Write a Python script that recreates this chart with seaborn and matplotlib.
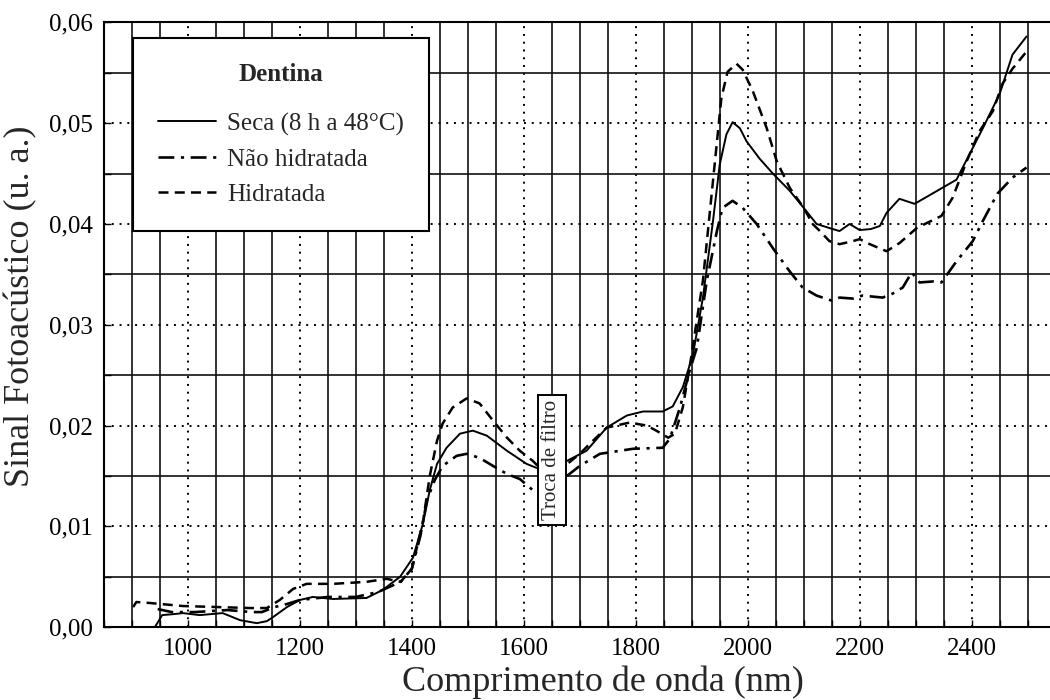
import numpy as np
import pandas as pd
import matplotlib
matplotlib.use("Agg")
import matplotlib.pyplot as plt
import seaborn as sns
from matplotlib.ticker import MultipleLocator, FuncFormatter

# %% Data (wavelength in nm, signal in a.u.)
# each curve is broken at the filter change (~1625-1675 nm)
seca_nm_a = [941, 954, 975, 991, 1021, 1062, 1093, 1123, 1141, 1152, 1177, 1200, 1223, 1259,
             1319, 1348, 1379, 1402, 1420, 1432, 1445, 1462, 1486, 1509, 1534, 1570, 1605, 1623]
seca_val_a = [0.0000, 0.0012, 0.0013, 0.0014, 0.0012, 0.0014, 0.0007, 0.0004, 0.0006, 0.0010,
              0.0020, 0.0027, 0.0030, 0.0028, 0.0029, 0.0037, 0.0050, 0.0069, 0.0103, 0.0136,
              0.0162, 0.0178, 0.0192, 0.0195, 0.0190, 0.0175, 0.0162, 0.0158]
seca_nm_b = [1677, 1712, 1748, 1784, 1813, 1848, 1866, 1884, 1902, 1920, 1938, 1950, 1962, 1973,
             1986, 1998, 2021, 2045, 2075, 2100, 2123, 2146, 2164, 2182, 2200, 2220, 2236, 2248,
             2271, 2298, 2320, 2348, 2373, 2396, 2420, 2450, 2473, 2498]
seca_val_b = [0.0165, 0.0175, 0.0198, 0.0210, 0.0214, 0.0214, 0.0219, 0.0238, 0.0270, 0.0327,
              0.0403, 0.0459, 0.0489, 0.0501, 0.0495, 0.0482, 0.0465, 0.0450, 0.0433, 0.0416,
              0.0400, 0.0396, 0.0393, 0.0400, 0.0394, 0.0395, 0.0398, 0.0411, 0.0425, 0.0420,
              0.0427, 0.0436, 0.0444, 0.0469, 0.0495, 0.0529, 0.0568, 0.0586]

nhid_nm_a = [946, 971, 1013, 1040, 1071, 1114, 1132, 1155, 1177, 1200, 1250, 1300, 1340, 1380,
             1400, 1415, 1427, 1441, 1455, 1480, 1498, 1521, 1545, 1570, 1593, 1616, 1625]
nhid_val_a = [0.0018, 0.0015, 0.0015, 0.0016, 0.0017, 0.0015, 0.0015, 0.0020, 0.0023, 0.0027,
              0.0030, 0.0030, 0.0035, 0.0045, 0.0058, 0.0090, 0.0126, 0.0146, 0.0160, 0.0170,
              0.0172, 0.0168, 0.0160, 0.0152, 0.0147, 0.0136, 0.0133]
nhid_nm_b = [1677, 1700, 1736, 1795, 1848, 1861, 1879, 1896, 1909, 1927, 1945, 1955, 1973, 1991,
             2016, 2045, 2075, 2098, 2123, 2150, 2164, 2188, 2205, 2241, 2259, 2277, 2293, 2307,
             2331, 2346, 2373, 2402, 2420, 2446, 2473, 2498]
nhid_val_b = [0.0150, 0.0160, 0.0172, 0.0177, 0.0178, 0.0187, 0.0218, 0.0254, 0.0277, 0.0344,
              0.0393, 0.0416, 0.0423, 0.0416, 0.0400, 0.0376, 0.0353, 0.0337, 0.0329, 0.0324,
              0.0327, 0.0326, 0.0329, 0.0327, 0.0331, 0.0337, 0.0352, 0.0342, 0.0343, 0.0342,
              0.0363, 0.0383, 0.0403, 0.0430, 0.0446, 0.0456]

hid_nm_a = [902, 908, 932, 991, 1052, 1111, 1141, 1164, 1188, 1212, 1259, 1319, 1355, 1380,
            1400, 1420, 1432, 1445, 1455, 1473, 1498, 1521, 1545, 1570, 1593, 1616, 1625]
hid_val_a = [0.0020, 0.0025, 0.0024, 0.0021, 0.0020, 0.0019, 0.0019, 0.0027, 0.0038, 0.0043,
             0.0043, 0.0045, 0.0048, 0.0045, 0.0058, 0.0105, 0.0150, 0.0185, 0.0202, 0.0218,
             0.0227, 0.0222, 0.0205, 0.0188, 0.0175, 0.0165, 0.0160]
hid_nm_b = [1680, 1700, 1718, 1748, 1789, 1820, 1843, 1858, 1870, 1884, 1896, 1920, 1938, 1953,
            1964, 1980, 1991, 2009, 2034, 2052, 2075, 2100, 2116, 2129, 2146, 2164, 2188, 2200,
            2218, 2248, 2271, 2302, 2320, 2346, 2366, 2391, 2414, 2438, 2455, 2473, 2498]
hid_val_b = [0.0163, 0.0172, 0.0182, 0.0198, 0.0203, 0.0200, 0.0193, 0.0188, 0.0192, 0.0218,
             0.0257, 0.0344, 0.0443, 0.0525, 0.0551, 0.0559, 0.0553, 0.0532, 0.0495, 0.0462,
             0.0436, 0.0416, 0.0400, 0.0393, 0.0383, 0.0380, 0.0383, 0.0385, 0.0380, 0.0373,
             0.0381, 0.0396, 0.0401, 0.0408, 0.0426, 0.0462, 0.0492, 0.0512, 0.0539, 0.0554,
             0.0571]

labels = ["Seca (8 h a 48°C)", "Não hidratada", "Hidratada"]
legend_title = "Dentina"
filter_note = "Troca de filtro"
filter_nm = 1650

# %% Style
sns.set_theme(style="white")
plt.rcParams["font.family"] = ["Liberation Serif", "DejaVu Serif"]
plt.rcParams["axes.edgecolor"] = "black"

curves = [
    (labels[0], (seca_nm_a, seca_val_a), (seca_nm_b, seca_val_b), "-", 1.4),
    (labels[1], (nhid_nm_a, nhid_val_a), (nhid_nm_b, nhid_val_b), (0, (6, 2.5, 1.2, 2.5)), 1.9),
    (labels[2], (hid_nm_a, hid_val_a), (hid_nm_b, hid_val_b), (0, (4, 2.5)), 1.8),
]

fig = plt.figure(figsize=(10.5, 7), dpi=100)
ax = fig.add_axes([0.099, 0.104, 0.901, 0.864])

for name, seg_a, seg_b, ls, lw in curves:
    for k, (xs, ys) in enumerate([seg_a, seg_b]):
        df = pd.DataFrame({"nm": xs, "sinal": ys})
        sns.lineplot(data=df, x="nm", y="sinal", ax=ax, color="black",
                     linestyle=ls, linewidth=lw, estimator=None, sort=False,
                     label=name if k == 0 else None, zorder=3)

ax.set_xlim(850, 2540)
ax.set_ylim(0, 0.06)

# ticks: labelled ones carry dotted grid lines, the in-between ones solid
ax.xaxis.set_major_locator(MultipleLocator(200))
ax.xaxis.set_minor_locator(MultipleLocator(50))
ax.yaxis.set_major_locator(MultipleLocator(0.01))
ax.yaxis.set_minor_locator(MultipleLocator(0.005))
ax.yaxis.set_major_formatter(FuncFormatter(lambda v, p: f"{v:.2f}".replace(".", ",")))
ax.xaxis.set_major_formatter(FuncFormatter(lambda v, p: f"{v:.0f}"))
ax.grid(which="major", color="black", linestyle=(0, (1, 3)), linewidth=1.4)
ax.grid(which="minor", color="#111111", linestyle="-", linewidth=1.2)
ax.set_axisbelow(True)
ax.tick_params(which="both", direction="in", length=5, width=1, colors="black",
               labelsize=18, pad=8)
ax.tick_params(which="both", right=False, top=False, left=True, bottom=True)
for side in ["left", "bottom", "top"]:
    ax.spines[side].set_linewidth(1.5)
ax.spines["right"].set_visible(False)

ax.set_xlabel("Comprimento de onda (nm)", fontsize=26)
ax.set_ylabel("Sinal Fotoacústico (u. a.)", fontsize=26)
ax.xaxis.set_label_coords(0.527, -0.064)
ax.yaxis.set_label_coords(-0.07, 0.53)

# filter change marker
ax.text(filter_nm, 0.0166, filter_note, rotation=90, ha="center", va="center",
        fontsize=15, zorder=5,
        bbox=dict(boxstyle="square,pad=0.22", fc="white", ec="black", lw=1.4))

leg = ax.legend(loc="upper left", bbox_to_anchor=(0.031, 0.974), borderaxespad=0,
                title=legend_title, fontsize=18, frameon=True, fancybox=False,
                framealpha=1, edgecolor="black", handlelength=2.3, handletextpad=0.45,
                borderpad=1.0, labelspacing=0.5,
                title_fontproperties={"weight": "bold", "size": 18})
leg.get_frame().set_linewidth(1.5)
leg.set_zorder(6)
# a bit more air between the title and the entries, as in the original
leg._legend_box.sep = 19

plt.savefig("out.png", dpi=100)
